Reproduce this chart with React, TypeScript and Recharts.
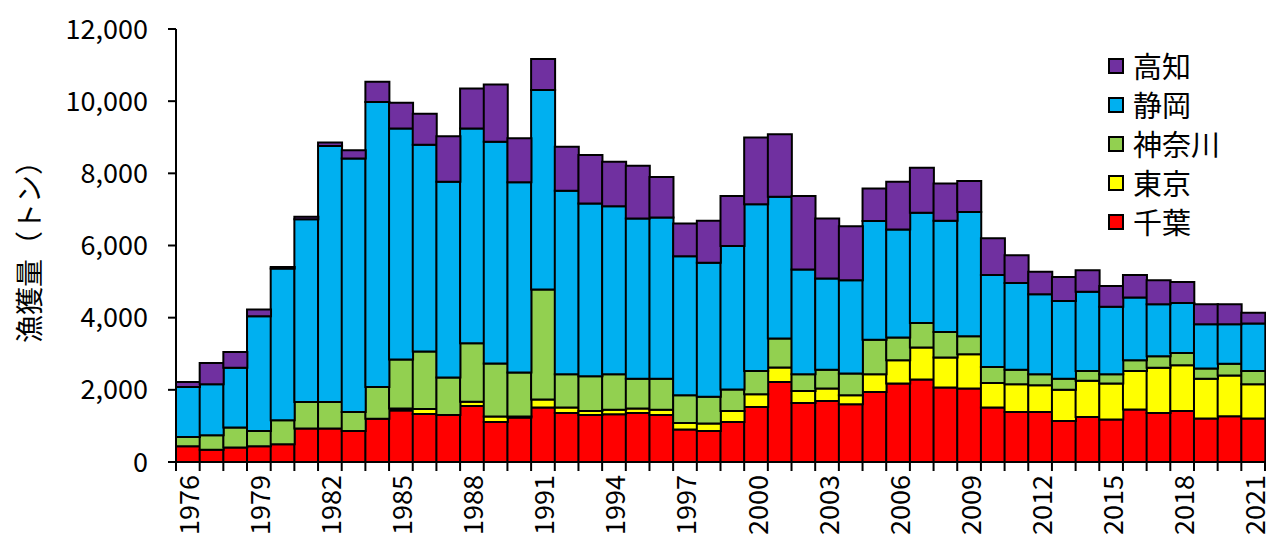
import { BarChart, Bar, XAxis, YAxis, Label } from 'recharts';

const years = [
  1976, 1977, 1978, 1979, 1980, 1981, 1982, 1983, 1984, 1985, 1986, 1987, 1988, 1989, 1990, 1991,
  1992, 1993, 1994, 1995, 1996, 1997, 1998, 1999, 2000, 2001, 2002, 2003, 2004, 2005, 2006, 2007,
  2008, 2009, 2010, 2011, 2012, 2013, 2014, 2015, 2016, 2017, 2018, 2019, 2020, 2021,
];

const chiba = [
  435, 340, 400, 435, 490, 925, 925, 860, 1200, 1430, 1330, 1300, 1550, 1110, 1230, 1510,
  1360, 1300, 1320, 1360, 1300, 900, 860, 1110, 1525, 2220, 1635, 1690, 1600, 1940, 2175, 2285,
  2065, 2035, 1510, 1385, 1385, 1135, 1250, 1175, 1455, 1360, 1415, 1205, 1265, 1205,
];
const tokyo = [
  0, 0, 0, 0, 0, 0, 0, 0, 0, 50, 140, 0, 120, 150, 30, 220,
  150, 115, 130, 120, 150, 180, 205, 305, 350, 400, 335, 345, 250, 490, 645, 885,
  830, 950, 680, 770, 740, 870, 1000, 1000, 1070, 1255, 1265, 1105, 1135, 950,
];
const kanagawa = [
  260, 400, 555, 425, 665, 740, 740, 525, 880, 1360, 1590, 1040, 1620, 1470, 1220, 3050,
  925, 960, 980, 830, 860, 770, 740, 595, 645, 805, 465, 525, 600, 960, 630, 685,
  710, 500, 445, 405, 305, 305, 275, 260, 295, 315, 340, 280, 325, 370,
];
const shizuoka = [
  1385, 1415, 1660, 3180, 4205, 5060, 7090, 7025, 7900, 6405, 5730, 5425, 5950, 6145, 5270, 5530,
  5080, 4790, 4660, 4440, 4465, 3855, 3715, 3975, 4625, 3925, 2900, 2525, 2590, 3290, 2995, 3050,
  3080, 3445, 2545, 2400, 2220, 2155, 2190, 1865, 1740, 1440, 1385, 1230, 1090, 1315,
];
const kochi = [
  140, 590, 435, 185, 45, 70, 100, 230, 555, 710, 860, 1265, 1110, 1590, 1220, 860,
  1220, 1340, 1230, 1460, 1125, 905, 1165, 1385, 1850, 1730, 2035, 1665, 1495, 900, 1320, 1250,
  1035, 860, 1020, 770, 620, 665, 600, 575, 620, 665, 580, 555, 555, 295,
];

const yTicks = [0, 2000, 4000, 6000, 8000, 10000, 12000];

const series = [
  { key: 'chiba', name: '千葉', color: '#FF0000' },
  { key: 'tokyo', name: '東京', color: '#FFFF00' },
  { key: 'kanagawa', name: '神奈川', color: '#92D050' },
  { key: 'shizuoka', name: '静岡', color: '#00B0F0' },
  { key: 'kochi', name: '高知', color: '#7030A0' },
];

const data = years.map((y, i) => ({
  year: y,
  chiba: chiba[i],
  tokyo: tokyo[i],
  kanagawa: kanagawa[i],
  shizuoka: shizuoka[i],
  kochi: kochi[i],
}));

const W = 1266;
const H = 542;
const LEFT = 176;
const RIGHT = 1;
const FONT = '"Noto Sans CJK JP", "Noto Sans", sans-serif';
const HALF_BAND = (W - LEFT - RIGHT) / years.length / 2;

function YearTick(props: any) {
  const { x, y, payload, index } = props;
  const half = payload && payload.offset > 0 ? payload.offset : HALF_BAND;
  const top = y - 1;
  const isLast = index === years.length - 1;
  const ty = top + 14;
  return (
    <g>
      <line x1={x - half} y1={top} x2={x - half} y2={top + 10} stroke="#000" strokeWidth={2} />
      {isLast && (
        <line x1={x + half} y1={top} x2={x + half} y2={top + 10} stroke="#000" strokeWidth={2} />
      )}
      {index % 3 === 0 && (
        <text
          x={x}
          y={ty}
          transform={`rotate(-90, ${x}, ${ty})`}
          textAnchor="end"
          dominantBaseline="central"
          fontFamily={FONT}
          fontSize={27}
          fill="#000"
        >
          {payload.value}
        </text>
      )}
    </g>
  );
}

// legend drawn outside recharts so it doesn't shrink the plot area
function LegendBox() {
  const items = [...series].reverse();
  return (
    <div
      style={{
        position: 'absolute',
        left: 1108,
        top: 46,
        fontFamily: FONT,
        fontSize: 29,
        color: '#000',
      }}
    >
      {items.map((it) => (
        <div key={it.key} style={{ display: 'flex', alignItems: 'center', height: 39 }}>
          <span
            style={{
              display: 'inline-block',
              width: 12,
              height: 12,
              background: it.color,
              border: '2px solid #000',
              marginRight: 9,
            }}
          />
          <span style={{ lineHeight: '39px' }}>{it.name}</span>
        </div>
      ))}
    </div>
  );
}

export default function App() {
  return (
    <div style={{ position: 'absolute', left: 0, top: 0, width: W, height: H, background: '#fff' }}>
      <BarChart
        width={W}
        height={H}
        data={data}
        margin={{ top: 29, right: RIGHT, bottom: 0, left: 0 }}
        barCategoryGap={0}
      >
        <XAxis
          dataKey="year"
          interval={0}
          height={80}
          tickLine={false}
          tickSize={0}
          tickMargin={0}
          axisLine={{ stroke: '#000', strokeWidth: 2 }}
          tick={<YearTick />}
        />
        <YAxis
          width={LEFT}
          domain={[0, 12000]}
          ticks={yTicks}
          interval={0}
          tickSize={8}
          tickMargin={20}
          axisLine={{ stroke: '#000', strokeWidth: 2 }}
          tickLine={{ stroke: '#000', strokeWidth: 2 }}
          tick={{ fill: '#000', fontSize: 27, fontFamily: FONT }}
          tickFormatter={(v: number) => v.toLocaleString('en-US')}
        >
          <Label
            content={() => (
              <text
                x={28}
                y={245}
                transform="rotate(-90, 28, 245)"
                textAnchor="middle"
                dominantBaseline="central"
                fontFamily={FONT}
                fontSize={28}
                fill="#000"
              >
                漁獲量（トン）
              </text>
            )}
          />
        </YAxis>
        {series.map((s) => (
          <Bar
            key={s.key}
            dataKey={s.key}
            name={s.name}
            stackId="a"
            fill={s.color}
            stroke="#000"
            strokeWidth={2}
            isAnimationActive={false}
          />
        ))}
      </BarChart>
      <LegendBox />
    </div>
  );
}
